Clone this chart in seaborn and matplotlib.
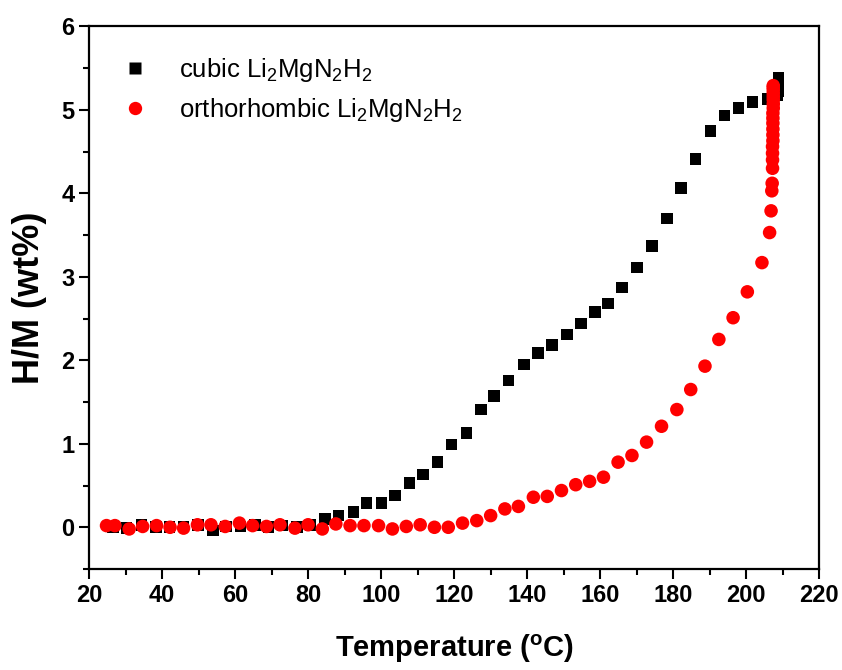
import numpy as np
import pandas as pd
import matplotlib
matplotlib.use("Agg")
import matplotlib.pyplot as plt
import seaborn as sns
from matplotlib.lines import Line2D
from matplotlib.ticker import MultipleLocator

# Hydrogen uptake vs. temperature for the two Li2MgN2H2 polymorphs
cubic_T = [26.6, 30.3, 34.4, 38.3, 42.0, 45.9, 49.9, 54.0, 57.6, 61.5, 65.4, 69.2,
           73.0, 76.9, 80.7, 84.6, 88.3, 92.4, 96.0, 100.1, 103.8, 107.8, 111.5,
           115.4, 119.3, 123.4, 127.3, 131.0, 134.9, 139.1, 142.9, 146.8, 150.9,
           154.7, 158.6, 162.1, 166.0, 170.1, 174.2, 178.3, 182.1, 186.1, 190.2,
           194.0, 197.9, 201.7, 205.8, 208.6, 208.7, 208.7, 208.8, 208.8]
cubic_H = [0.00, -0.01, 0.03, 0.00, 0.00, 0.01, 0.03, -0.04, 0.01, 0.01, 0.03, 0.00,
           0.02, 0.00, 0.03, 0.10, 0.14, 0.18, 0.29, 0.29, 0.38, 0.53, 0.63,
           0.78, 0.99, 1.13, 1.41, 1.57, 1.76, 1.95, 2.09, 2.18, 2.31,
           2.44, 2.58, 2.68, 2.87, 3.11, 3.37, 3.70, 4.06, 4.41, 4.75,
           4.93, 5.02, 5.09, 5.13, 5.17, 5.22, 5.27, 5.33, 5.38]

ortho_T = [24.8, 27.1, 31.0, 34.7, 38.5, 42.2, 45.9, 49.7, 53.4, 57.3, 61.2, 64.8,
           68.6, 72.3, 76.4, 80.0, 83.9, 87.6, 91.5, 95.3, 99.3, 103.1, 106.9,
           110.7, 114.6, 118.4, 122.3, 126.2, 130.0, 133.9, 137.6, 141.7, 145.5,
           149.4, 153.3, 157.1, 160.9, 164.9, 168.7, 172.7, 176.8, 181.0, 184.8,
           188.7, 192.5, 196.4, 200.3, 204.3, 206.4, 206.8, 207.0, 207.1, 207.2,
           207.2, 207.2, 207.2, 207.3, 207.3, 207.3, 207.3, 207.3, 207.3, 207.4,
           207.4, 207.4, 207.4, 207.4, 207.4, 207.4, 207.4]
ortho_H = [0.02, 0.02, -0.02, 0.01, 0.02, 0.00, -0.01, 0.03, 0.03, 0.01, 0.05, 0.02,
           0.01, 0.03, -0.01, 0.03, -0.02, 0.04, 0.02, 0.02, 0.02, -0.02, 0.01,
           0.03, 0.00, 0.00, 0.05, 0.08, 0.14, 0.22, 0.25, 0.36, 0.37,
           0.44, 0.51, 0.55, 0.60, 0.78, 0.86, 1.02, 1.21, 1.41, 1.65,
           1.93, 2.25, 2.51, 2.82, 3.17, 3.53, 3.79, 4.03, 4.12, 4.30,
           4.40, 4.48, 4.56, 4.63, 4.70, 4.77, 4.84, 4.90, 4.96, 5.02,
           5.07, 5.12, 5.16, 5.20, 5.24, 5.27, 5.29]

series_labels = [r"cubic Li$_2$MgN$_2$H$_2$", r"orthorhombic Li$_2$MgN$_2$H$_2$"]
x_ticks = [20, 40, 60, 80, 100, 120, 140, 160, 180, 200, 220]
y_ticks = [0, 1, 2, 3, 4, 5, 6]

cubic = pd.DataFrame({"T": cubic_T, "H": cubic_H})
ortho = pd.DataFrame({"T": ortho_T, "H": ortho_H})

sns.set_style("white")
plt.rcParams["font.family"] = ["Liberation Sans", "DejaVu Sans"]
plt.rcParams["text.color"] = "black"
plt.rcParams["axes.labelcolor"] = "black"
plt.rcParams["xtick.color"] = "black"
plt.rcParams["ytick.color"] = "black"
plt.rcParams["mathtext.fontset"] = "custom"
plt.rcParams["mathtext.rm"] = "Liberation Sans"
plt.rcParams["mathtext.it"] = "Liberation Sans:italic"
plt.rcParams["mathtext.bf"] = "Liberation Sans:bold"

fig = plt.figure(figsize=(8.42, 6.70), dpi=100)
ax = fig.add_axes([0.1057, 0.1507, 0.8673, 0.8100])

sns.scatterplot(data=cubic, x="T", y="H", marker="s", s=70, color="black",
                edgecolor="none", ax=ax, zorder=2)
sns.scatterplot(data=ortho, x="T", y="H", marker="o", s=95, color="#ff0000",
                edgecolor="none", ax=ax, zorder=3)

ax.set_xlim(20, 220)
ax.set_ylim(-0.5, 6)
ax.set_xticks(x_ticks)
ax.set_yticks(y_ticks)
ax.xaxis.set_minor_locator(MultipleLocator(10))
ax.yaxis.set_minor_locator(MultipleLocator(0.5))

for side in ["left", "bottom", "right", "top"]:
    ax.spines[side].set_visible(True)
    ax.spines[side].set_color("black")
    ax.spines[side].set_linewidth(1.6)

ax.tick_params(which="major", direction="out", length=7.5, width=1.5,
               colors="black", labelcolor="black", labelsize=17, pad=3,
               bottom=True, left=True, top=False, right=False)
ax.tick_params(which="minor", direction="out", length=4, width=1.5,
               colors="black", bottom=True, left=True, top=False, right=False)
for lab in ax.get_xticklabels() + ax.get_yticklabels():
    lab.set_fontweight("bold")

ax.set_xlabel(r"Temperature ($^{\mathbf{o}}$C)", fontsize=21, fontweight="bold",
              labelpad=19, color="black")
ax.set_ylabel("H/M (wt%)", fontsize=26, fontweight="bold", labelpad=10,
              color="black")

handles = [
    Line2D([], [], linestyle="none", marker="s", markersize=8.2,
           markerfacecolor="black", markeredgecolor="none"),
    Line2D([], [], linestyle="none", marker="o", markersize=9.6,
           markerfacecolor="#ff0000", markeredgecolor="none"),
]
leg = ax.legend(handles, series_labels, loc="upper left",
                bbox_to_anchor=(0.035, 0.965), frameon=False, fontsize=18.5,
                handlelength=0.8, handletextpad=1.3, labelspacing=0.5,
                borderaxespad=0)
for txt in leg.get_texts():
    txt.set_color("black")

fig.savefig("out.png", dpi=100, facecolor="white")
